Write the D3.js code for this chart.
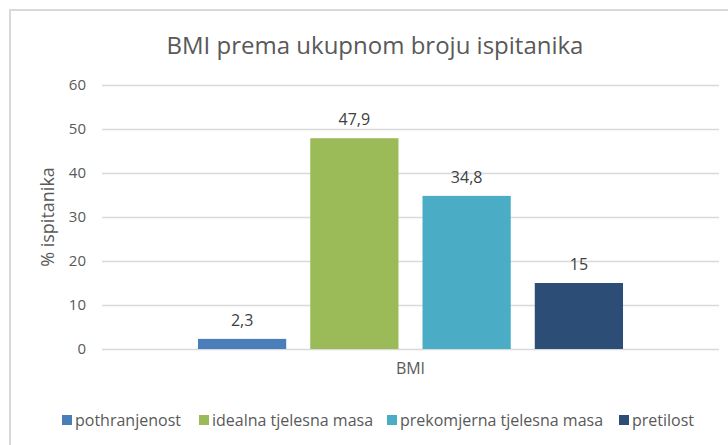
<!DOCTYPE html>
<html>
<head>
<meta charset="utf-8">
<script src="https://cdn.jsdelivr.net/npm/d3@7"></script>
<style>
  body { margin: 0; background: #fff; }
  svg { font-family: "Open Sans", Lato, sans-serif; }
</style>
</head>
<body>
<svg id="chart"></svg>
<script>
// chart values
const categories = ["BMI"];
const seriesNames = ["pothranjenost", "idealna tjelesna masa", "prekomjerna tjelesna masa", "pretilost"];
const seriesValues = [2.3, 47.9, 34.8, 15];
const seriesLabels = ["2,3", "47,9", "34,8", "15"];
const seriesColors = ["#4a7ebb", "#9bbb59", "#4bacc6", "#2c4d75"];
const yTicks = [0, 10, 20, 30, 40, 50, 60];

const width = 728, height = 445;
const svg = d3.select("#chart").attr("width", width).attr("height", height);

// outer frame (right and bottom edges run off the picture)
svg.append("rect")
    .attr("x", 10).attr("y", 10)
    .attr("width", 740).attr("height", 460)
    .attr("fill", "#fff").attr("stroke", "#d9d9d9").attr("stroke-width", 2);

const plot = { left: 102, right: 719, top: 85, bottom: 349 };

const y = d3.scaleLinear().domain([0, 60]).range([plot.bottom, plot.top]);
const x0 = d3.scaleBand().domain(categories).range([plot.left, plot.right]).paddingOuter(0.187);
const x1 = d3.scaleBand().domain(seriesNames).range([0, x0.bandwidth()]).paddingInner(0.214).paddingOuter(0.107);

// title
svg.append("text")
    .attr("x", 375).attr("y", 54)
    .attr("text-anchor", "middle")
    .attr("font-size", 24)
    .attr("fill", "#595959")
    .text("BMI prema ukupnom broju ispitanika");

// gridlines + y axis
const yAxis = d3.axisLeft(y).tickValues(yTicks).tickSize(-(plot.right - plot.left)).tickPadding(16);
const gy = svg.append("g").attr("transform", `translate(${plot.left},0)`).call(yAxis);
gy.select(".domain").remove();
gy.selectAll(".tick line").attr("stroke", "#d9d9d9").attr("stroke-width", 1.5);
gy.selectAll(".tick text").attr("font-size", 15).attr("fill", "#595959").attr("font-family", "'Open Sans', sans-serif");

// y axis title
svg.append("text")
    .attr("transform", `translate(54,${(plot.top + plot.bottom) / 2}) rotate(-90)`)
    .attr("text-anchor", "middle")
    .attr("font-size", 18)
    .attr("fill", "#595959")
    .text("% ispitanika");

// bars
const g = svg.append("g");
categories.forEach(cat => {
    const bars = g.selectAll(".bar")
        .data(seriesNames.map((s, i) => ({ s, v: seriesValues[i], label: seriesLabels[i], c: seriesColors[i] })))
        .enter();

    bars.append("rect")
        .attr("x", d => x0(cat) + x1(d.s))
        .attr("y", d => y(d.v))
        .attr("width", x1.bandwidth())
        .attr("height", d => y(0) - y(d.v))
        .attr("fill", d => d.c);

    bars.append("text")
        .attr("x", d => x0(cat) + x1(d.s) + x1.bandwidth() / 2)
        .attr("y", d => y(d.v) - 13)
        .attr("text-anchor", "middle")
        .attr("font-size", 16)
        .attr("fill", "#404040")
        .text(d => d.label);
});

// category label
svg.selectAll(".cat")
    .data(categories)
    .enter().append("text")
    .attr("x", d => x0(d) + x0.bandwidth() / 2)
    .attr("y", 374)
    .attr("text-anchor", "middle")
    .attr("font-size", 16)
    .attr("fill", "#595959")
    .text(d => d);

// legend
const legendX = [62, 199, 387, 619];
const legend = svg.append("g").attr("transform", "translate(0,426)");
seriesNames.forEach((name, i) => {
    legend.append("rect")
        .attr("x", legendX[i]).attr("y", -11)
        .attr("width", 10).attr("height", 10)
        .attr("fill", seriesColors[i]);
    legend.append("text")
        .attr("x", legendX[i] + 13).attr("y", 0)
        .attr("font-size", 16)
        .attr("fill", "#595959")
        .text(name);
});
</script>
</body>
</html>
